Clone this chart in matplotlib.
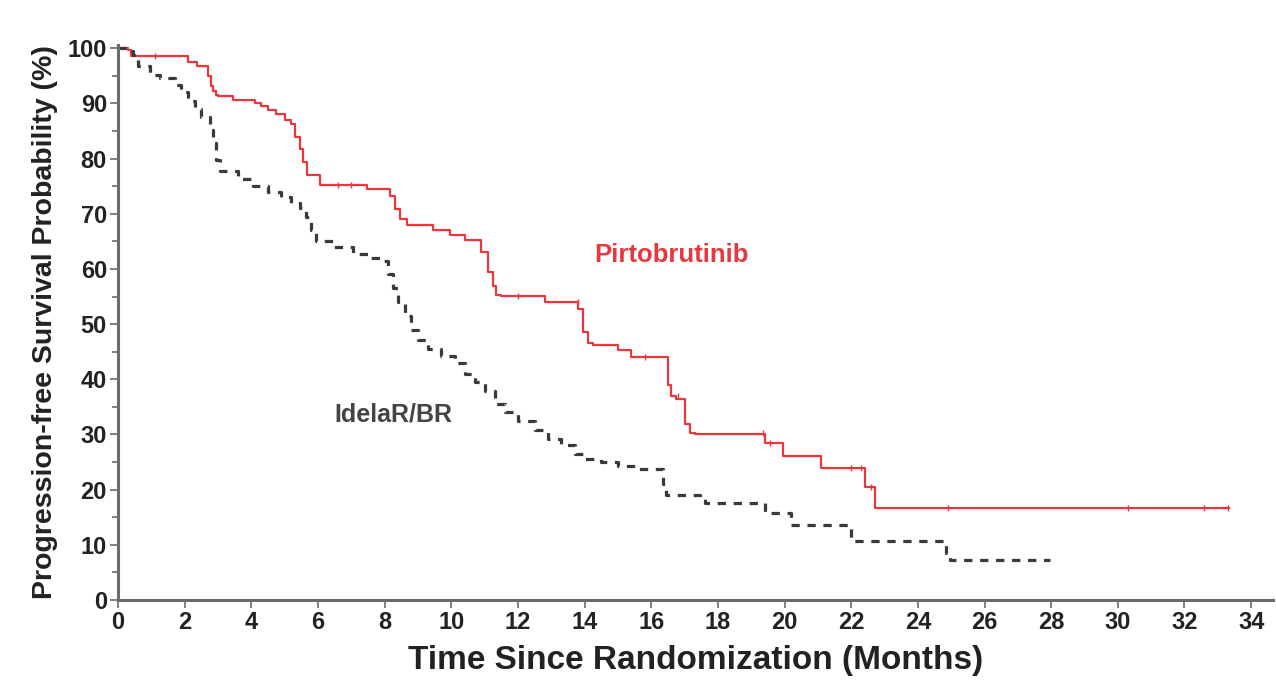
import matplotlib
matplotlib.use("Agg")
import matplotlib.pyplot as plt
from matplotlib.ticker import MultipleLocator

plt.rcParams['font.family'] = ['Liberation Sans', 'DejaVu Sans']

# Kaplan-Meier step data (time in months, PFS in %)
pirto_t = [0, 0.3, 0.4, 2.1, 2.37, 2.7, 2.78, 2.86, 2.94, 3.0, 3.46, 4.1, 4.3, 4.5,
           4.75, 5.0, 5.2, 5.3, 5.45, 5.55, 5.67, 6.07, 7.47, 8.17, 8.3, 8.45,
           8.67, 9.46, 9.97, 10.4, 10.9, 11.1, 11.25, 11.35, 11.5, 12.8, 13.8,
           13.95, 14.1, 14.25, 15.0, 15.4, 16.5, 16.6, 16.75, 17.0, 17.15, 17.3,
           19.4, 19.96, 21.1, 22.4, 22.7, 33.35]
pirto_s = [100, 99.6, 98.6, 97.6, 96.8, 94.9, 93.1, 92.2, 91.6, 91.4, 90.7, 90.1,
           89.5, 88.9, 88.0, 87.0, 86.2, 84.0, 81.7, 79.3, 77.1, 75.2, 74.5, 73.3,
           70.9, 69.1, 67.9, 67.0, 66.1, 65.2, 63.0, 59.5, 57.0, 55.3, 55.1, 54.0,
           52.8, 48.6, 46.5, 46.3, 45.4, 44.0, 39.0, 37.0, 36.4, 31.9, 30.3, 30.1,
           28.5, 26.1, 24.0, 20.4, 16.6, 16.6]

idela_t = [0, 0.3, 0.45, 0.6, 0.96, 1.26, 1.7, 1.9, 2.1, 2.3, 2.5, 2.75, 2.85,
           2.95, 3.05, 3.6, 4.05, 4.5, 4.9, 5.2, 5.45, 5.65, 5.8, 5.95, 6.45,
           7.05, 7.5, 7.95, 8.1, 8.25, 8.4, 8.6, 8.8, 9.0, 9.3, 9.7, 10.1, 10.4,
           10.7, 11.0, 11.3, 11.6, 12.0, 12.5, 12.9, 13.3, 13.7, 14.0, 14.5, 15.0,
           15.5, 16.35, 16.45, 17.45, 17.6, 19.4, 20.2, 22.0, 24.85, 24.95, 27.95]
idela_s = [100, 99.5, 98.7, 96.7, 95.1, 94.6, 93.3, 92.0, 90.5, 89.0, 87.5, 85.2,
           82.9, 79.8, 77.8, 76.3, 75.0, 74.0, 73.0, 72.0, 71.0, 69.5, 67.0, 65.0,
           64.0, 62.7, 62.0, 61.5, 59.0, 56.5, 54.0, 51.5, 49.0, 47.2, 45.5, 44.3,
           43.0, 41.0, 39.5, 37.8, 35.5, 34.0, 32.4, 30.8, 29.2, 28.0, 26.5, 25.5,
           25.0, 24.2, 23.8, 21.0, 19.0, 18.3, 17.5, 15.7, 13.5, 10.6, 8.5, 7.2, 7.2]

# censored observations on the pirtobrutinib arm
cens_t = [1.1, 6.6, 7.0, 12.0, 13.8, 15.8, 16.8, 19.35, 19.55, 22.0, 22.3, 22.6,
          24.9, 30.3, 32.6, 33.3]
cens_s = [98.6, 75.2, 75.2, 55.1, 54.0, 44.0, 37.0, 30.3, 28.5, 24.0, 24.0, 20.4,
          16.6, 16.6, 16.6, 16.6]

red = '#e8383d'
dark = '#3a3a3a'
axis_grey = '#6a6a6a'

fig = plt.figure(figsize=(12.76, 6.92), dpi=100)
ax = fig.add_axes([0.0925, 0.133, 0.905, 0.802])

ax.step(pirto_t, pirto_s, where='post', color=red, lw=1.6)
ax.plot(cens_t, cens_s, ls='none', marker='|', ms=4, mew=1.0, color=red)
ax.step(idela_t, idela_s, where='post', color=dark, lw=2.3,
        dashes=(2.6, 2.4))

ax.text(16.6, 62.5, 'Pirtobrutinib', color=red, fontsize=18.5, fontweight='bold',
        ha='center', va='center')
ax.text(8.26, 33.7, 'IdelaR/BR', color='#444444', fontsize=18, fontweight='bold',
        ha='center', va='center')

ax.set_xlim(0, 34.65)
ax.set_ylim(0, 100.6)
ax.xaxis.set_major_locator(MultipleLocator(2))
ax.yaxis.set_major_locator(MultipleLocator(10))
ax.yaxis.set_minor_locator(MultipleLocator(5))

for side in ['top', 'right']:
    ax.spines[side].set_visible(False)
for side in ['left', 'bottom']:
    ax.spines[side].set_color(axis_grey)
    ax.spines[side].set_linewidth(2.2)

ax.tick_params(axis='both', which='major', direction='out', length=6, width=1.2,
               color=axis_grey, labelsize=17, pad=2)
ax.tick_params(axis='y', which='minor', direction='out', length=4, width=1.2,
               color=axis_grey)
for lab in ax.get_xticklabels() + ax.get_yticklabels():
    lab.set_fontweight('bold')
    lab.set_color('#222222')

ax.set_xlabel('Time Since Randomization (Months)', fontsize=24, fontweight='bold',
              color='#222222', labelpad=8)
ax.set_ylabel('Progression-free Survival Probability (%)', fontsize=20.5,
              fontweight='bold', color='#222222', labelpad=7)

fig.savefig('out.png', dpi=100, facecolor='white')
